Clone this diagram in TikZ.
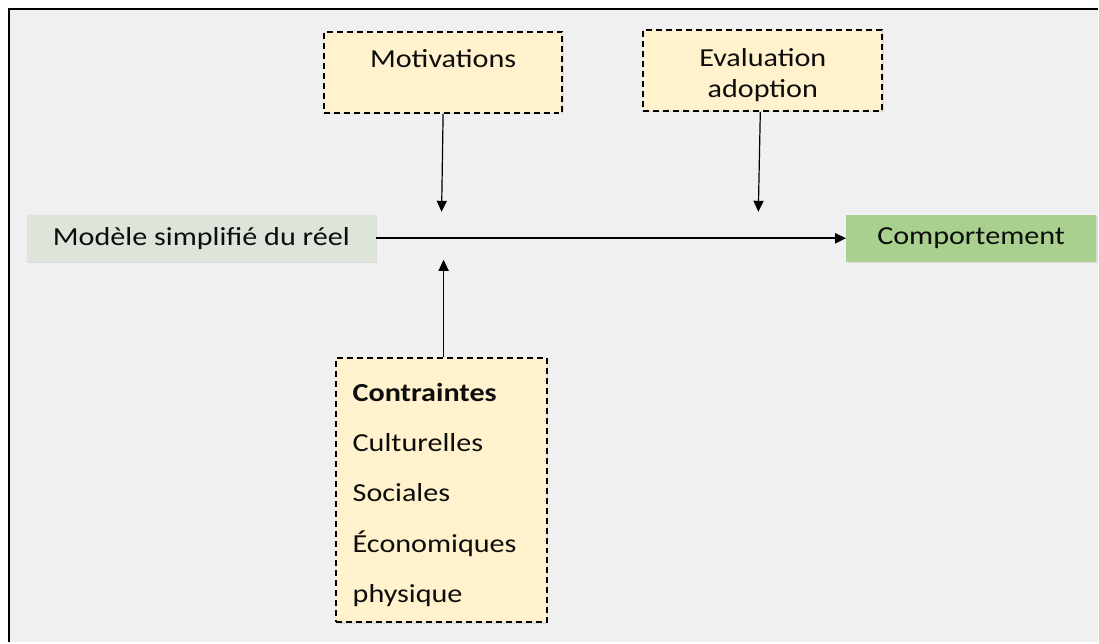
\documentclass[tikz,border=0pt]{standalone}
\usepackage{fontspec}
\setmainfont{Carlito}[FakeStretch=1.16]
\usepackage{xcolor}
\usetikzlibrary{arrows.meta,shadows}

\definecolor{bggray}{HTML}{F0F0F0}
\definecolor{boxyellow}{HTML}{FFF2CC}
\definecolor{boxgrey}{HTML}{DDE4DA}
\definecolor{boxgreen}{HTML}{A9D08E}

\begin{document}
\begin{tikzpicture}[
    x=1pt, y=-1pt,
    every node/.style={font=\fontsize{26}{31}\selectfont, text=black!95},
    softshadow/.style={drop shadow={opacity=0.18, shadow xshift=1.5pt, shadow yshift=-1.5pt}},
    dashbox/.style={draw, dashed, dash pattern=on 6pt off 4pt, line width=2pt, fill=boxyellow, softshadow, inner sep=0pt},
    plainbox/.style={minimum height=47pt, inner sep=0pt, softshadow},
    >={Triangle[width=10pt, length=11pt]},
    thin arrow/.style={->, line width=1.2pt},
    ]

    % frame
    \fill[white] (0,0) rectangle (1099,643);
    \fill[bggray] (9,9) rectangle (1099,643);
    \draw[line width=2pt] (9,643) -- (9,9) -- (1099,9);

    \node[dashbox, minimum width=239pt, minimum height=81pt, text height=18pt, text depth=27pt] (mot) at (443.5,72.5) {Motivations};
    \node[dashbox, minimum width=239pt, minimum height=81pt, text height=54pt, text depth=0pt, align=center] (eval) at (763.5,70.5) {Evaluation\\adoption};
    \node[plainbox, fill=boxgrey, minimum width=349pt] (model) at (201.5,238.5) {Modèle simplifié du réel};
    \node[plainbox, fill=boxgreen, minimum width=250pt] (comp) at (972,238.5) {Comportement};
    \node[dashbox, minimum width=211pt, minimum height=265pt, text width=177pt, text height=28pt, align=left] (contr) at (441.5,490.5)
        {\textbf{Contraintes}\\[19.5pt] Culturelles\\[19.5pt] Sociales\\[19.5pt] Économiques\\[19.5pt] physique};

    \coordinate (motend) at (442,212);
    \coordinate (evalend) at (759,212);
    \coordinate (contrend) at (444,260);

    \draw[->, line width=2.4pt] (model) -- (comp);
    \draw[thin arrow] (mot.south) -- (motend);
    \draw[thin arrow] (eval.south -| 761,0) -- (evalend);
    \draw[thin arrow] (contr.north -| contrend) -- (contrend);

\end{tikzpicture}
\end{document}
